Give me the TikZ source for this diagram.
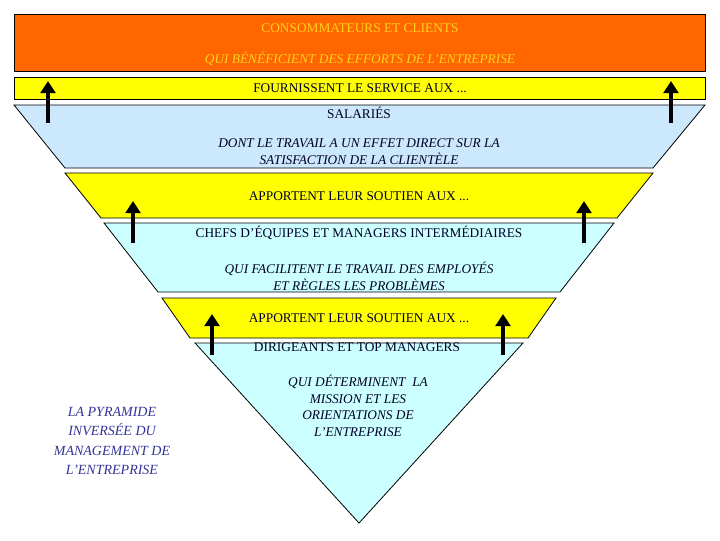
\documentclass[tikz,border=0pt]{standalone}
\usepackage{fontspec}
\setmainfont{Liberation Serif}
\begin{document}
\begin{tikzpicture}[x=0.75pt,y=-0.75pt,
  band/.style={draw=black,line width=0.6pt},
  txt/.style={font=\fontsize{10}{12}\selectfont,text=black!85!blue,align=center,inner sep=0pt},
  itx/.style={txt,font=\fontsize{10}{12.6}\selectfont\itshape},
  arr/.style={line width=3.2pt,-{Triangle[length=9pt,width=11pt]}}]
\usetikzlibrary{arrows.meta}
\useasboundingbox (0,0) rectangle (720,540);
\definecolor{org}{HTML}{FF6600}
\definecolor{yel}{HTML}{FFFF00}
\definecolor{bl1}{HTML}{CCE8FC}
\definecolor{bl2}{HTML}{CCFFFF}
\definecolor{ttl}{HTML}{FFD21A}
\definecolor{lbl}{HTML}{333399}
\fill[band,fill=org] (14,14) rectangle (705,71);
\fill[band,fill=yel] (14,77) rectangle (705,99);
\fill[band,fill=bl1] (14,105) -- (705,105) -- (653,168) -- (65,168) -- cycle;
\fill[band,fill=yel] (65,173) -- (653,173) -- (617,218) -- (101,218) -- cycle;
\fill[band,fill=bl2] (104,223) -- (614,223) -- (560,292) -- (158,292) -- cycle;
\fill[band,fill=yel] (162,298) -- (556,298) -- (528,338) -- (190,338) -- cycle;
\fill[band,fill=bl2] (195,343) -- (523,343) -- (359,523) -- cycle;
\node[txt,text=ttl] (t1) at (360,28) {CONSOMMATEURS ET CLIENTS};
\node[itx,text=ttl] (t2) at (360,59) {QUI BÉNÉFICIENT DES EFFORTS DE L'ENTREPRISE};
\node[txt] (t3) at (360,88) {FOURNISSENT LE SERVICE AUX ...};
\node[txt] (t4) at (359,113) {SALARIÉS};
\node[itx] (t5) at (359,152) {DONT LE TRAVAIL A UN EFFET DIRECT SUR LA\\SATISFACTION DE LA CLIENTÈLE};
\node[txt] (t6) at (359,196) {APPORTENT LEUR SOUTIEN AUX ...};
\node[txt] (t7) at (359,233) {CHEFS D'ÉQUIPES ET MANAGERS INTERMÉDIAIRES};
\node[itx] (t8) at (359,276) {QUI FACILITENT LE TRAVAIL DES EMPLOYÉS\\ET RÈGLES LES PROBLÈMES};
\node[txt] (t9) at (359,318) {APPORTENT LEUR SOUTIEN AUX ...};
\node[txt] (t10) at (357,347) {DIRIGEANTS ET TOP MANAGERS};
\node[itx,font=\fontsize{10}{12.4}\selectfont\itshape] (t11) at (358,406) {QUI DÉTERMINENT \ LA\\MISSION ET LES\\ORIENTATIONS DE\\L'ENTREPRISE};
\node[itx,text=lbl,font=\fontsize{10.5}{14.4}\selectfont\itshape] (t12) at (112,441) {LA PYRAMIDE\\INVERSÉE DU\\MANAGEMENT DE\\L'ENTREPRISE};
\foreach \x/\b/\t in {48/123/81, 671/123/81, 133/243/201, 584/243/201, 212/355/314, 503/355/314}
  \draw[arr] (\x,\b) coordinate (s) -- (\x,\t) coordinate (e);
\end{tikzpicture}
\end{document}
